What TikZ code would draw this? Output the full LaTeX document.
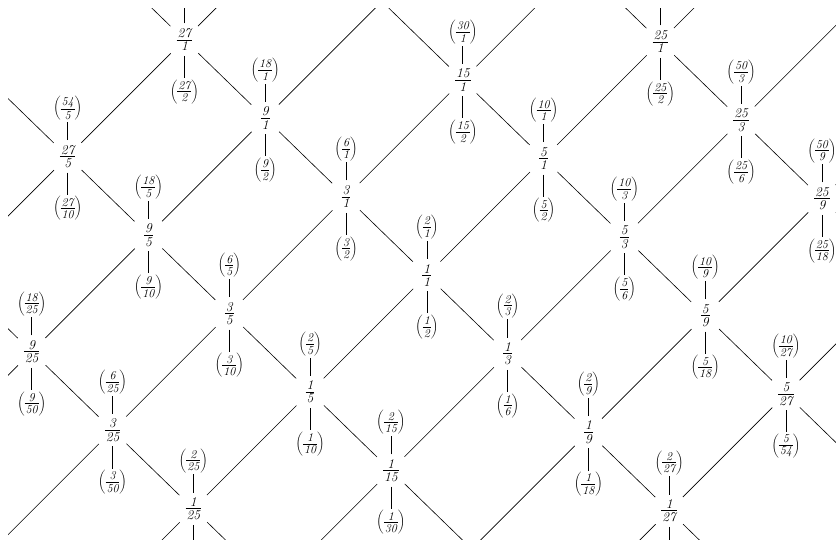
\documentclass[tikz,border=0pt]{standalone}
\usetikzlibrary{shapes.geometric}
\newcommand\LX[2]{426.8-80.8*(#1)+116.75*(#2)}
\newcommand\LY[2]{275.2-78.5*(#1)-116.75*(#2)}
\newcommand\stk[2]{\vcenter{\halign{\hfil\kern1pt##\kern1pt\hfil\cr #1\cr\noalign{\kern1.8pt\hrule height0.6pt\kern1.8pt}#2\cr}}}
\newcommand\mfr[2]{$\stk{#1}{#2}$}
\newcommand\pfr[2]{$\left(\vcenter{\hrule width0pt height26pt}\stk{#1}{#2}\right)$}
\newcommand\lmain[5]{\node[mainfr] (#1) at ({\LX{#2}{#3}},{\LY{#2}{#3}}) {\mfr{#4}{#5}};}
\newcommand\lup[3]{\node[parfr] (#1u) at ([yshift=48pt]#1.center) {\pfr{#2}{#3}}; \draw[latline] (#1) -- (#1u);}
\newcommand\ldn[3]{\node[parfr] (#1d) at ([yshift=-52pt]#1.center) {\pfr{#2}{#3}}; \draw[latline] (#1) -- (#1d);}
\newcommand\lpt[3]{\coordinate (#1) at ({\LX{#2}{#3}},{\LY{#2}{#3}});}
\begin{document}
\begin{tikzpicture}[x=1pt,y=-1pt,
  mainfr/.style={ellipse,minimum width=50pt,minimum height=32pt,inner sep=0pt,font=\fontsize{13.5}{15}\selectfont\itshape},
  parfr/.style={rectangle,inner sep=0.5pt,font=\fontsize{12}{14}\selectfont\itshape},
  latline/.style={line width=0.6pt,black}]
\useasboundingbox (0,0) rectangle (836,540);
\fill[white] (0,0) rectangle (836,540);
\clip (8,9) rectangle (836,540);
% main lattice nodes with their double and half
\lmain{r27}{3}{0}{27}{1} \ldn{r27}{27}{2}
\lmain{r9}{2}{0}{9}{1} \lup{r9}{18}{1} \ldn{r9}{9}{2}
\lmain{r3}{1}{0}{3}{1} \lup{r3}{6}{1} \ldn{r3}{3}{2}
\lmain{r1}{0}{0}{1}{1} \lup{r1}{2}{1} \ldn{r1}{1}{2}
\lmain{r1o3}{-1}{0}{1}{3} \lup{r1o3}{2}{3} \ldn{r1o3}{1}{6}
\lmain{r1o9}{-2}{0}{1}{9} \lup{r1o9}{2}{9} \ldn{r1o9}{1}{18}
\lmain{r1o27}{-3}{0}{1}{27} \lup{r1o27}{2}{27}
\lmain{r27o5}{3}{-1}{27}{5} \lup{r27o5}{54}{5} \ldn{r27o5}{27}{10}
\lmain{r9o5}{2}{-1}{9}{5} \lup{r9o5}{18}{5} \ldn{r9o5}{9}{10}
\lmain{r3o5}{1}{-1}{3}{5} \lup{r3o5}{6}{5} \ldn{r3o5}{3}{10}
\lmain{r1o5}{0}{-1}{1}{5} \lup{r1o5}{2}{5} \ldn{r1o5}{1}{10}
\lmain{r1o15}{-1}{-1}{1}{15} \lup{r1o15}{2}{15} \ldn{r1o15}{1}{30}
\lmain{r9o25}{2}{-2}{9}{25} \lup{r9o25}{18}{25} \ldn{r9o25}{9}{50}
\lmain{r3o25}{1}{-2}{3}{25} \lup{r3o25}{6}{25} \ldn{r3o25}{3}{50}
\lmain{r1o25}{0}{-2}{1}{25} \lup{r1o25}{2}{25}
\lmain{r15}{1}{1}{15}{1} \lup{r15}{30}{1} \ldn{r15}{15}{2}
\lmain{r5}{0}{1}{5}{1} \lup{r5}{10}{1} \ldn{r5}{5}{2}
\lmain{r5o3}{-1}{1}{5}{3} \lup{r5o3}{10}{3} \ldn{r5o3}{5}{6}
\lmain{r5o9}{-2}{1}{5}{9} \lup{r5o9}{10}{9} \ldn{r5o9}{5}{18}
\lmain{r5o27}{-3}{1}{5}{27} \lup{r5o27}{10}{27} \ldn{r5o27}{5}{54}
\lmain{r25}{0}{2}{25}{1} \ldn{r25}{25}{2}
\lmain{r25o3}{-1}{2}{25}{3} \lup{r25o3}{50}{3} \ldn{r25o3}{25}{6}
\lmain{r25o9}{-2}{2}{25}{9} \lup{r25o9}{50}{9} \ldn{r25o9}{25}{18}
% lattice points outside the frame
\lpt{c81}{4}{0} \lpt{c81o5}{4}{-1} \lpt{c27o25}{3}{-2} \lpt{c45}{2}{1} \lpt{c75}{1}{2}
\lpt{c1o81}{-4}{0} \lpt{c1o45}{-2}{-1} \lpt{c1o75}{-1}{-2} \lpt{c5o81}{-4}{1} \lpt{c25o27}{-3}{2}
\lpt{c135}{3}{1} \lpt{c125}{0}{3} \lpt{c125o3}{-1}{3} \lpt{c125o9}{-2}{3}
\lpt{c9o125}{2}{-3} \lpt{c3o125}{1}{-3} \lpt{c1o125}{0}{-3} \lpt{c1o135}{-3}{-1}
\coordinate (t27) at ([yshift=60pt]r27.center);
\coordinate (t25) at ([yshift=60pt]r25.center);
\coordinate (b1o25) at ([yshift=-60pt]r1o25.center);
\coordinate (b1o27) at ([yshift=-60pt]r1o27.center);
\draw[latline] (r27) -- (t27);
\draw[latline] (r25) -- (t25);
\draw[latline] (r1o25) -- (b1o25);
\draw[latline] (r1o27) -- (b1o27);
% lines dividing by 3 (down-right)
\draw[latline] (c81) -- (r27) -- (r9) -- (r3) -- (r1) -- (r1o3) -- (r1o9) -- (r1o27) -- (c1o81);
\draw[latline] (c81o5) -- (r27o5) -- (r9o5) -- (r3o5) -- (r1o5) -- (r1o15) -- (c1o45);
\draw[latline] (c27o25) -- (r9o25) -- (r3o25) -- (r1o25) -- (c1o75);
\draw[latline] (c45) -- (r15) -- (r5) -- (r5o3) -- (r5o9) -- (r5o27) -- (c5o81);
\draw[latline] (c75) -- (r25) -- (r25o3) -- (r25o9) -- (c25o27);
% lines dividing by 5 (down-left)
\draw[latline] (c135) -- (r27) -- (r27o5) -- (c27o25);
\draw[latline] (c45) -- (r9) -- (r9o5) -- (r9o25) -- (c9o125);
\draw[latline] (c75) -- (r15) -- (r3) -- (r3o5) -- (r3o25) -- (c3o125);
\draw[latline] (c125) -- (r25) -- (r5) -- (r1) -- (r1o5) -- (r1o25) -- (c1o125);
\draw[latline] (c125o3) -- (r25o3) -- (r5o3) -- (r1o3) -- (r1o15) -- (c1o75);
\draw[latline] (c125o9) -- (r25o9) -- (r5o9) -- (r1o9) -- (c1o45);
\draw[latline] (c25o27) -- (r5o27) -- (r1o27) -- (c1o135);
\end{tikzpicture}
\end{document}
